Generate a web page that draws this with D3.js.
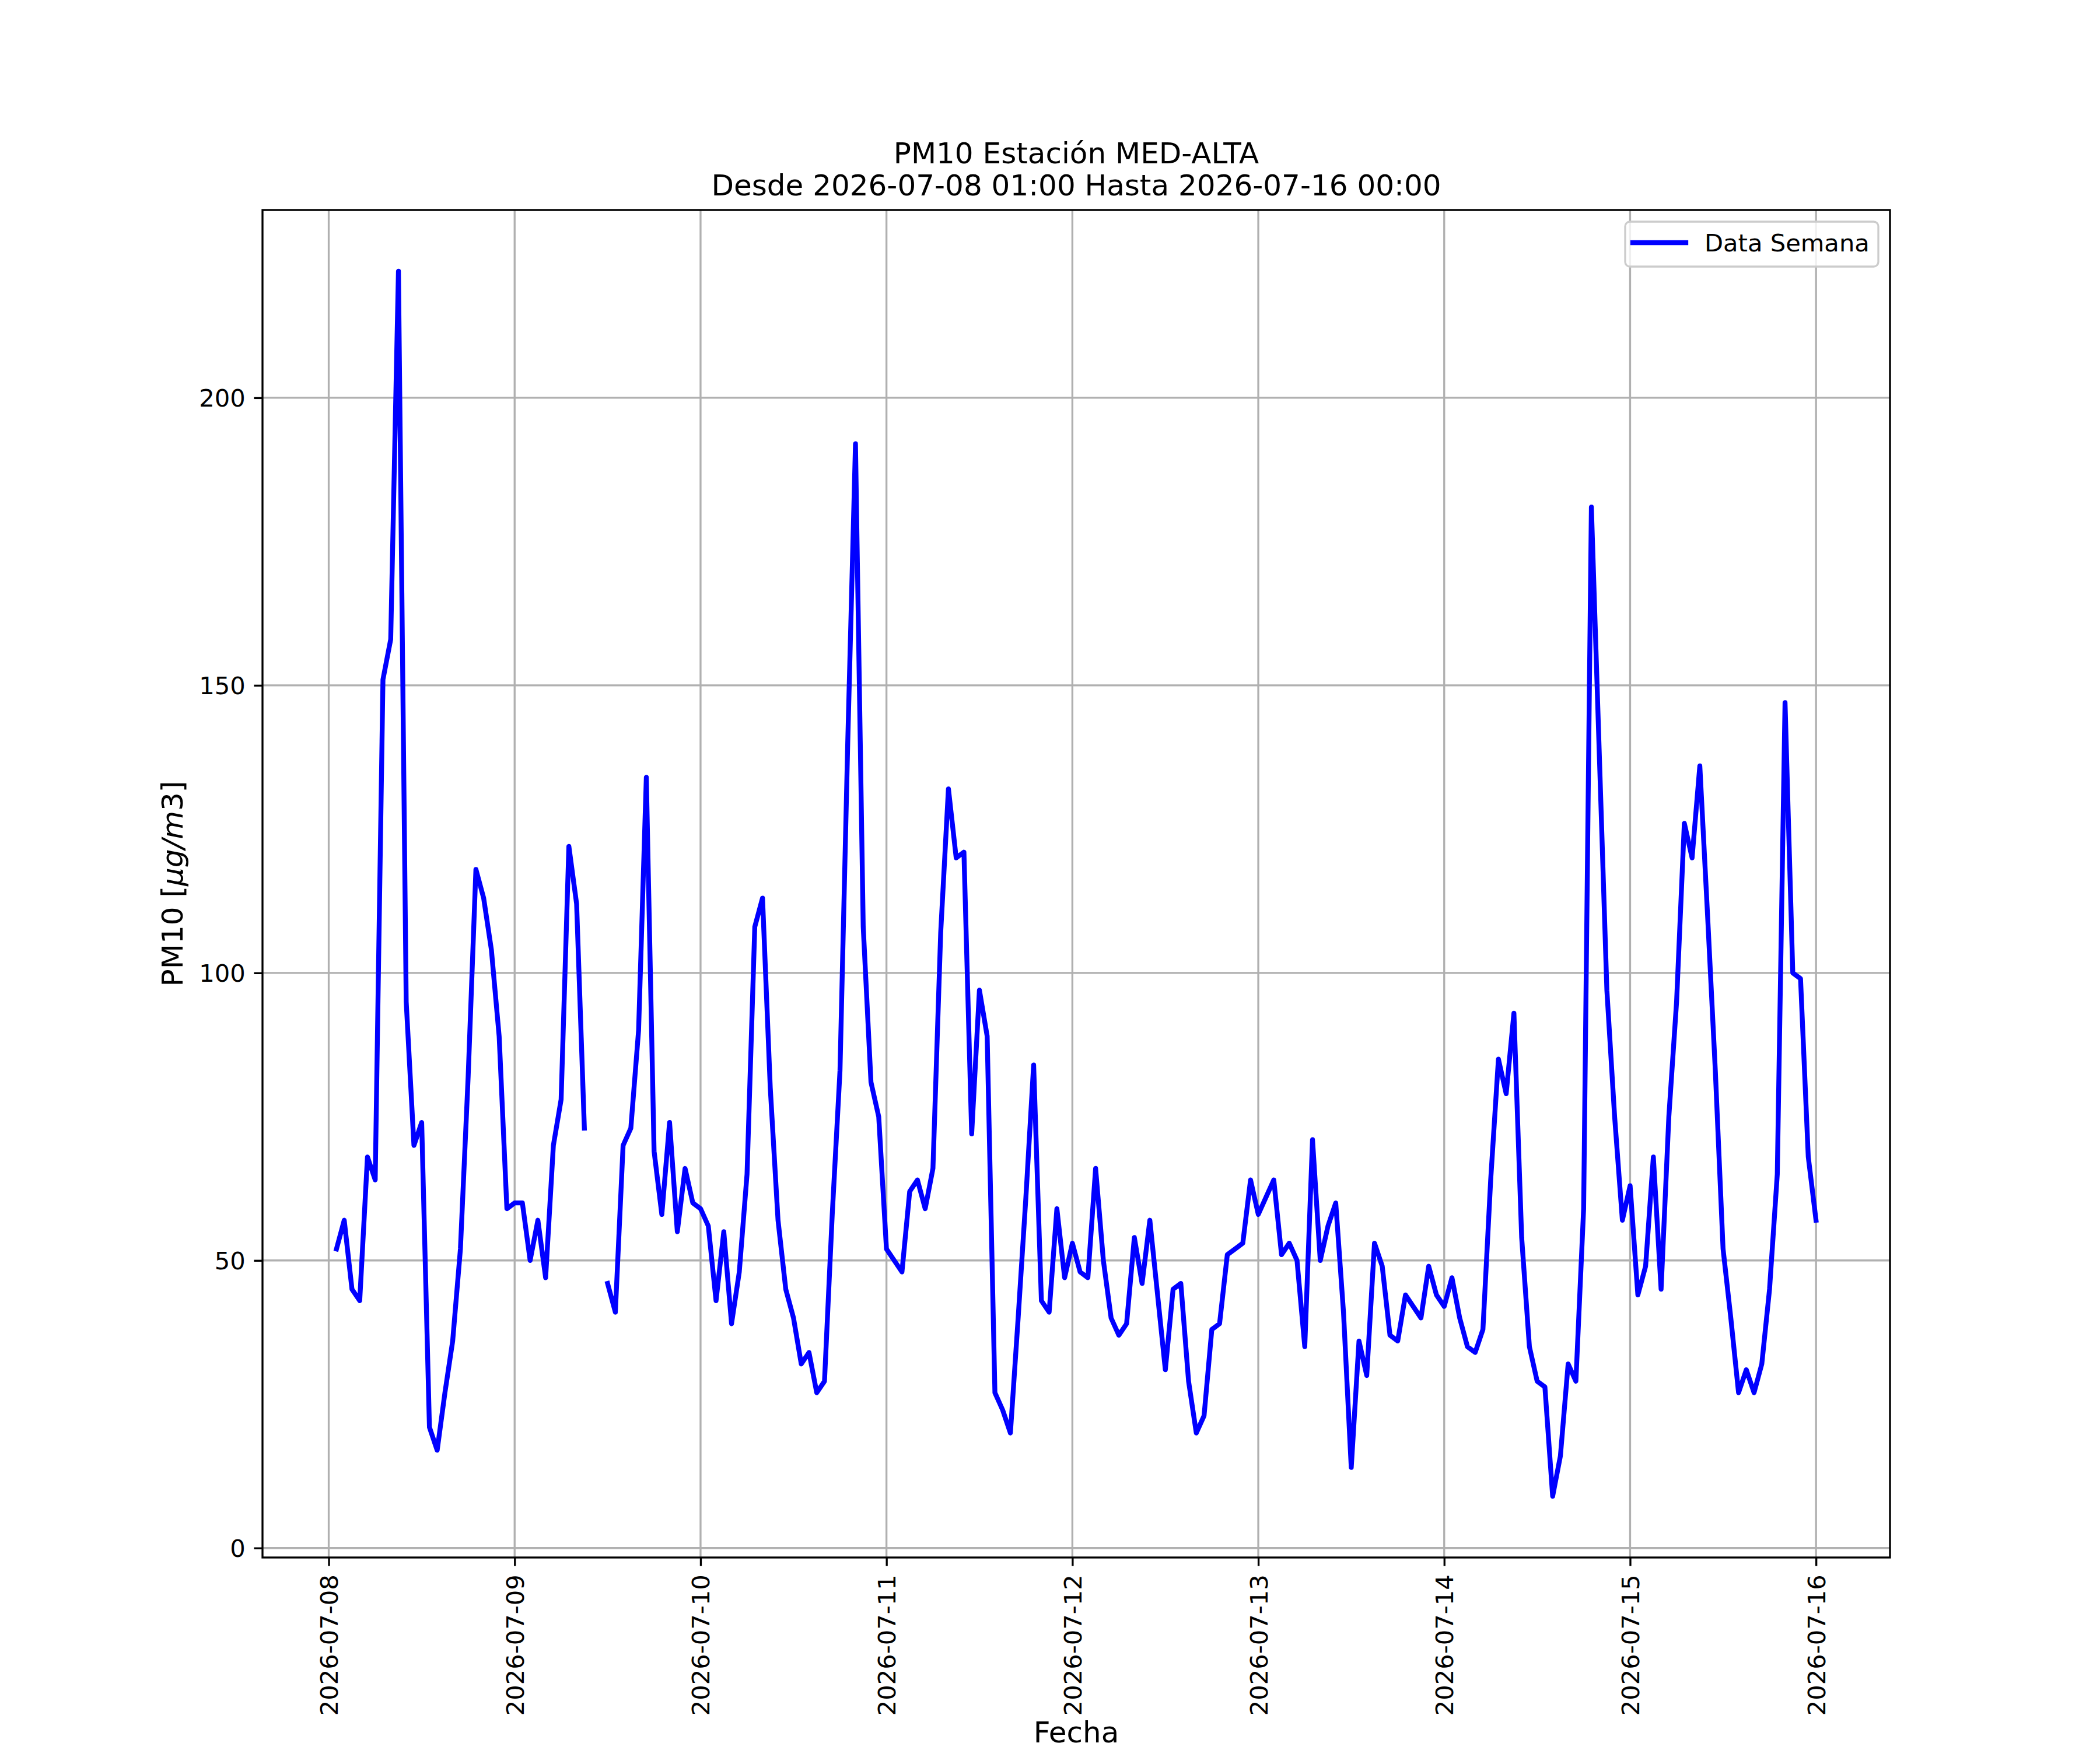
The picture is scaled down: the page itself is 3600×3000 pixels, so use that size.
<!DOCTYPE html>
<html>
<head>
<meta charset="utf-8">
<script src="https://cdn.jsdelivr.net/npm/d3@7"></script>
<style>
  body { margin: 0; background: #fff; }
  svg { display: block; font-family: "DejaVu Sans", sans-serif; }
</style>
</head>
<body>
<div id="chart"></div>
<script>
// hourly PM10 readings, 01:00 .. 24:00 for each day (null = no data)
const pm10_0708 = [52, 57, 45, 43, 68, 64, 151, 158, 222, 95, 70, 74, 21, 17, 27, 36, 52, 82, 118, 113, 104, 89, 59, 60];
const pm10_0709 = [60, 50, 57, 47, 70, 78, 122, 112, 73, null, null, 46, 41, 70, 73, 90, 134, 69, 58, 74, 55, 66, 60, 59];
const pm10_0710 = [56, 43, 55, 39, 48, 65, 108, 113, 80, 57, 45, 40, 32, 34, 27, 29, 58, 83, 140, 192, 108, 81, 75, 52];
const pm10_0711 = [50, 48, 62, 64, 59, 66, 107, 132, 120, 121, 72, 97, 89, 27, 24, 20, 40, 61, 84, 43, 41, 59, 47, 53];
const pm10_0712 = [48, 47, 66, 50, 40, 37, 39, 54, 46, 57, 44, 31, 45, 46, 29, 20, 23, 38, 39, 51, 52, 53, 64, 58];
const pm10_0713 = [61, 64, 51, 53, 50, 35, 71, 50, 56, 60, 41, 14, 36, 30, 53, 49, 37, 36, 44, 42, 40, 49, 44, 42];
const pm10_0714 = [47, 40, 35, 34, 38, 64, 85, 79, 93, 54, 35, 29, 28, 9, 16, 32, 29, 59, 181, 139, 97, 75, 57, 63];
const pm10_0715 = [44, 49, 68, 45, 75, 95, 126, 120, 136, 110, 83, 52, 40, 27, 31, 27, 32, 45, 65, 147, 100, 99, 68, 57];

const days = ['2026-07-08', '2026-07-09', '2026-07-10', '2026-07-11',
              '2026-07-12', '2026-07-13', '2026-07-14', '2026-07-15'];
const dayValues = [pm10_0708, pm10_0709, pm10_0710, pm10_0711,
                   pm10_0712, pm10_0713, pm10_0714, pm10_0715];
const yTicks = [0, 50, 100, 150, 200];

const titleLines = ['PM10 Estación MED-ALTA', 'Desde 2026-07-08 01:00 Hasta 2026-07-16 00:00'];
const legendLabel = 'Data Semana';
const xLabel = 'Fecha';

// ----------------------------------------------------
// build the series (reading at hour h of a day belongs to day + h hours)
// ----------------------------------------------------
const parseDay = d3.timeParse('%Y-%m-%d');
const data = [];
days.forEach((day, i) => {
  const t0 = parseDay(day);
  dayValues[i].forEach((v, h) => {
    data.push({t: d3.timeHour.offset(t0, h + 1), v: v});
  });
});

// figure geometry (matplotlib 12x10 in @ 300 dpi)
const width = 3600, height = 3000;
const margin = {left: 450, right: 3240, top: 360, bottom: 2670};
const pt = 300 / 72;
const lw = 0.8 * pt;

const tExt = d3.extent(data, d => d.t);
const tPad = (tExt[1] - tExt[0]) * 0.05;
const vals = data.filter(d => d.v != null).map(d => d.v);
const vMin = d3.min(vals), vMax = d3.max(vals);
const vPad = (vMax - vMin) * 0.05;

const x = d3.scaleTime()
  .domain([new Date(+tExt[0] - tPad), new Date(+tExt[1] + tPad)])
  .range([margin.left, margin.right]);
const y = d3.scaleLinear()
  .domain([vMin - vPad, vMax + vPad])
  .range([margin.bottom, margin.top]);

const svg = d3.select('#chart').append('svg')
  .attr('width', width)
  .attr('height', height);

svg.append('rect')
  .attr('width', width).attr('height', height)
  .attr('fill', 'white');

// grid
const xTickVals = days.map(parseDay).concat([d3.timeDay.offset(parseDay(days[days.length-1]), 1)]);
const grid = svg.append('g')
  .attr('stroke', '#b0b0b0')
  .attr('stroke-width', lw);
grid.selectAll('line.gx')
  .data(xTickVals)
  .enter().append('line')
    .attr('class', 'gx')
    .attr('x1', d => x(d)).attr('x2', d => x(d))
    .attr('y1', margin.top).attr('y2', margin.bottom);
grid.selectAll('line.gy')
  .data(yTicks)
  .enter().append('line')
    .attr('class', 'gy')
    .attr('x1', margin.left).attr('x2', margin.right)
    .attr('y1', d => y(d)).attr('y2', d => y(d));

// series
const line = d3.line()
  .defined(d => d.v != null)
  .x(d => x(d.t))
  .y(d => y(d.v));

svg.append('path')
  .datum(data)
  .attr('d', line)
  .attr('fill', 'none')
  .attr('stroke', '#0000ff')
  .attr('stroke-width', 2 * pt)
  .attr('stroke-linejoin', 'round')
  .attr('stroke-linecap', 'square');

// axes
const tickFont = 10 * pt;
const yAxis = svg.append('g')
  .attr('transform', `translate(${margin.left},0)`)
  .call(d3.axisLeft(y)
    .tickValues(yTicks)
    .tickSize(3.5 * pt)
    .tickPadding(3.5 * pt)
    .tickFormat(d3.format('d')));
yAxis.select('.domain').remove();
yAxis.selectAll('line').attr('stroke', 'black').attr('stroke-width', lw);
yAxis.selectAll('text')
  .attr('font-size', tickFont)
  .attr('font-family', 'DejaVu Sans')
  .attr('fill', 'black')
  .attr('dy', '0.36em');

const xAxis = svg.append('g')
  .attr('transform', `translate(0,${margin.bottom})`)
  .call(d3.axisBottom(x)
    .tickValues(xTickVals)
    .tickSize(3.5 * pt)
    .tickFormat(d3.timeFormat('%Y-%m-%d')));
xAxis.select('.domain').remove();
xAxis.selectAll('line').attr('stroke', 'black').attr('stroke-width', lw);
xAxis.selectAll('text')
  .attr('font-size', tickFont)
  .attr('font-family', 'DejaVu Sans')
  .attr('fill', 'black')
  .attr('transform', 'rotate(-90)')
  .attr('text-anchor', 'end')
  .attr('x', -7 * pt)
  .attr('y', 0)
  .attr('dy', '0.36em');

// frame
svg.append('rect')
  .attr('x', margin.left).attr('y', margin.top)
  .attr('width', margin.right - margin.left)
  .attr('height', margin.bottom - margin.top)
  .attr('fill', 'none')
  .attr('stroke', 'black')
  .attr('stroke-width', lw);

// title
const labelFont = 12 * pt;
const title = svg.append('text')
  .attr('text-anchor', 'middle')
  .attr('font-size', labelFont)
  .attr('fill', 'black');
title.selectAll('tspan')
  .data(titleLines)
  .enter().append('tspan')
    .attr('x', (margin.left + margin.right) / 2)
    .attr('y', (d, i) => 280 + i * 55)
    .text(d => d);

// axis labels
svg.append('text')
  .attr('x', (margin.left + margin.right) / 2)
  .attr('y', 2987)
  .attr('text-anchor', 'middle')
  .attr('font-size', labelFont)
  .attr('fill', 'black')
  .text(xLabel);

const yl = svg.append('text')
  .attr('transform', `translate(313,${(margin.top + margin.bottom) / 2}) rotate(-90)`)
  .attr('text-anchor', 'middle')
  .attr('font-size', labelFont)
  .attr('fill', 'black');
yl.append('tspan').text('PM10 [');
yl.append('tspan').attr('font-style', 'italic').text('μg/m');
yl.append('tspan').text('3]');

// legend
const lg = svg.append('g');
lg.append('rect')
  .attr('x', 2786).attr('y', 380)
  .attr('width', 434).attr('height', 77)
  .attr('rx', 8)
  .attr('fill', 'white').attr('fill-opacity', 0.8)
  .attr('stroke', '#cccccc')
  .attr('stroke-width', lw);
lg.append('line')
  .attr('x1', 2799).attr('x2', 2890)
  .attr('y1', 416).attr('y2', 416)
  .attr('stroke', '#0000ff')
  .attr('stroke-width', 2 * pt)
  .attr('stroke-linecap', 'square');
lg.append('text')
  .attr('x', 2922).attr('y', 416)
  .attr('dy', '0.36em')
  .attr('font-size', tickFont)
  .attr('fill', 'black')
  .text(legendLabel);
</script>
</body>
</html>
